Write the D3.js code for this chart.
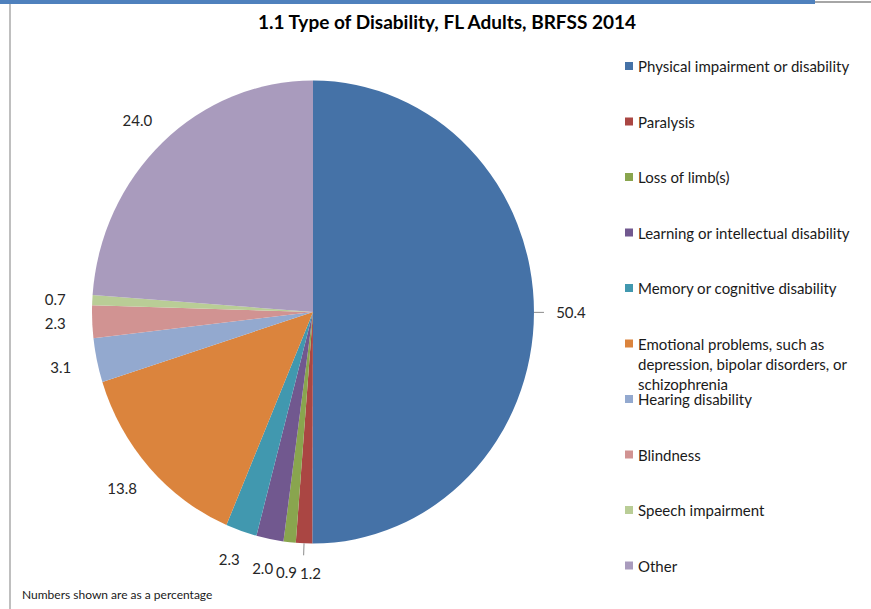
<!DOCTYPE html>
<html>
<head>
<meta charset="utf-8">
<script src="https://cdn.jsdelivr.net/npm/d3@7"></script>
<style>
  html, body { margin: 0; padding: 0; background: #fff; }
  svg { display: block; }
  text { font-family: Lato, "Open Sans", sans-serif; }
</style>
</head>
<body>
<svg id="chart" width="871" height="609"></svg>
<script>
// ---- data ----
const categories = [
  "Physical impairment or disability",
  "Paralysis",
  "Loss of limb(s)",
  "Learning or intellectual disability",
  "Memory or cognitive disability",
  "Emotional problems, such as depression, bipolar disorders, or schizophrenia",
  "Hearing disability",
  "Blindness",
  "Speech impairment",
  "Other"
];
const values = [50.4, 1.2, 0.9, 2.0, 2.3, 13.8, 3.1, 2.3, 0.7, 24.0];
const colors = ["#4572A7", "#AA4643", "#89A54E", "#71588F", "#4198AF",
                "#DB843D", "#93A9CF", "#D19392", "#B9CD96", "#A99BBD"];
const leaderCategories = ["Physical impairment or disability", "Paralysis"];
const titleText = "1.1 Type of Disability, FL Adults, BRFSS 2014";
const noteText = "Numbers shown are as a percentage";

const data = categories.map((c, i) => ({ category: c, value: values[i], color: colors[i] }));

const svg = d3.select("#chart");

// frame decoration
svg.append("rect").attr("x", 0).attr("y", 0).attr("width", 815).attr("height", 4).attr("fill", "#4F81BD");
svg.append("rect").attr("x", 815).attr("y", 1).attr("width", 56).attr("height", 2).attr("fill", "#a6a6a6");
svg.append("rect").attr("x", 9).attr("y", 4).attr("width", 2).attr("height", 605).attr("fill", "#bfbfbf");

// title
svg.append("text")
  .attr("x", 447).attr("y", 29)
  .attr("text-anchor", "middle")
  .attr("font-size", 19).attr("font-weight", "bold").attr("fill", "#000")
  .text(titleText);

// pie
const cx = 313, cy = 312, rx = 221, ry = 231.5;
const pie = d3.pie().value(d => d.value).sort(null);
const arcs = pie(data);
const arc = d3.arc().innerRadius(0).outerRadius(rx);

const g = svg.append("g")
  .attr("transform", `translate(${cx},${cy}) scale(1,${ry / rx})`);
g.selectAll("path").data(arcs).enter().append("path")
  .attr("d", arc)
  .attr("fill", d => d.data.color);

// labels
const lrx = rx + 37, lry = ry + 30;
const lab = svg.append("g");
const labels = arcs.map(a => {
  const m = (a.startAngle + a.endAngle) / 2;
  const sx = Math.sin(m), cyv = -Math.cos(m);
  const t = lab.append("text")
    .attr("text-anchor", "middle")
    .attr("dominant-baseline", "central")
    .attr("font-size", 15).attr("fill", "#262626")
    .text(d3.format(".1f")(a.data.value));
  return { a, sx, cyv, t, x: cx + sx * lrx, y: cy + cyv * lry, w: t.node().getComputedTextLength() };
});
// simple horizontal overlap resolution for labels in the same band
const sorted = labels.slice().sort((p, q) => p.x - q.x);
for (let i = 1; i < sorted.length; i++) {
  for (let j = 0; j < i; j++) {
    const p = sorted[j], q = sorted[i];
    if (Math.abs(p.y - q.y) < 14) {
      const minDist = (p.w + q.w) / 2 + 3;
      if (q.x - p.x < minDist && q.x >= p.x) q.x = p.x + minDist;
    }
  }
}
labels.forEach(l => {
  l.t.attr("x", l.x).attr("y", l.y);
  if (leaderCategories.includes(l.a.data.category)) {
    const ex = cx + l.sx * rx, ey = cy + l.cyv * ry;
    const tx = cx + l.sx * (rx + 10), ty = cy + l.cyv * (ry + 12);
    lab.append("line")
      .attr("x1", ex).attr("y1", ey).attr("x2", tx).attr("y2", ty)
      .attr("stroke", "#8c8c8c").attr("stroke-width", 1);
  }
});

// legend
const legX = 625, legY0 = 66, legStep = 55.5, maxW = 218, lineH = 20;
const leg = svg.append("g");
data.forEach((d, i) => {
  const y = legY0 + i * legStep;
  leg.append("rect")
    .attr("x", legX).attr("y", y - 4).attr("width", 8).attr("height", 8)
    .attr("fill", d.color);
  const t = leg.append("text")
    .attr("x", legX + 13).attr("y", y)
    .attr("dominant-baseline", "central")
    .attr("font-size", 15).attr("fill", "#1a1a1a");
  const words = d.category.split(" ");
  let line = [];
  let ts = t.append("tspan").attr("x", legX + 13).attr("dy", 0);
  words.forEach(w => {
    line.push(w);
    ts.text(line.join(" "));
    if (ts.node().getComputedTextLength() > maxW && line.length > 1) {
      line.pop();
      ts.text(line.join(" "));
      line = [w];
      ts = t.append("tspan").attr("x", legX + 13).attr("dy", lineH).text(w);
    }
  });
});

// note
svg.append("text")
  .attr("x", 22).attr("y", 599)
  .attr("font-size", 12).attr("fill", "#1a1a1a")
  .text(noteText);
</script>
</body>
</html>
